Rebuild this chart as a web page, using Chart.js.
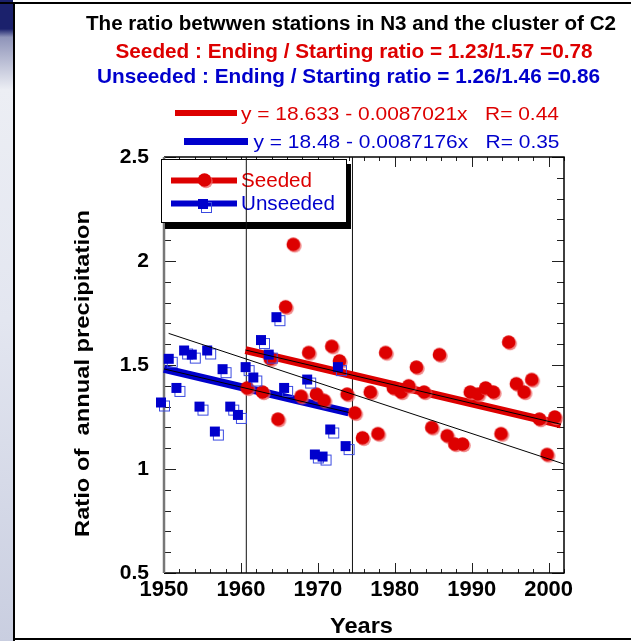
<!DOCTYPE html>
<html>
<head>
<meta charset="utf-8">
<title>N3 / C2 precipitation ratio</title>
<script src="https://cdn.jsdelivr.net/npm/chart.js@4.4.0/dist/chart.umd.min.js"></script>
<style>
  html, body { margin: 0; padding: 0; background: #fff; }
  canvas { display: block; }
</style>
</head>
<body>
<canvas id="chart" width="631" height="641"></canvas>
<script>
// Seeded years (red circles)
const seededYears = [1961, 1963, 1964, 1965, 1966, 1967, 1968, 1969, 1970, 1971,
  1972, 1973, 1974, 1975, 1976, 1977, 1978, 1979, 1980, 1981,
  1982, 1983, 1984, 1985, 1986, 1987, 1988, 1989, 1990, 1991,
  1992, 1993, 1994, 1995, 1996, 1997, 1998, 1999, 2000, 2001];
const seededRatio = [1.39, 1.37, 1.53, 1.24, 1.78, 2.08, 1.35, 1.56, 1.36, 1.33,
  1.59, 1.52, 1.36, 1.27, 1.15, 1.37, 1.17, 1.56, 1.39, 1.37,
  1.40, 1.49, 1.37, 1.20, 1.55, 1.16, 1.12, 1.12, 1.37, 1.36,
  1.39, 1.37, 1.17, 1.61, 1.41, 1.37, 1.43, 1.24, 1.07, 1.25];

// Unseeded years (blue squares)
const unseededYears = [1950, 1951, 1952, 1953, 1954, 1955, 1956, 1957, 1958, 1959,
  1960, 1961, 1962, 1963, 1964, 1965, 1966, 1969, 1970, 1971,
  1972, 1973, 1974];
const unseededRatio = [1.32, 1.53, 1.39, 1.57, 1.55, 1.30, 1.57, 1.18, 1.48, 1.30,
  1.26, 1.49, 1.44, 1.62, 1.55, 1.73, 1.39, 1.43, 1.07, 1.06,
  1.19, 1.49, 1.11];

// Regression lines: y = 18.633 - 0.0087021x and y = 18.48 - 0.0087176x
const seededFitYears = [1960.6, 2001.6];
const seededFitRatio = [1.572, 1.215];
const unseededFitYears = [1950, 1974];
const unseededFitRatio = [1.481, 1.272];
// Trend over the whole record
const allFitYears = [1950.6, 2002];
const allFitRatio = [1.652, 1.024];

// Start / end of the seeding period
const periodYears = [1960.7, 1974.5];

const xTickLabels = [1950, 1960, 1970, 1980, 1990, 2000];
const yTickLabels = [0.5, 1, 1.5, 2, 2.5];

const titleLines = [
  'The ratio betwwen stations in N3 and the cluster of C2',
  'Seeded : Ending / Starting ratio = 1.23/1.57 =0.78',
  'Unseeded : Ending / Starting ratio = 1.26/1.46 =0.86'
];
const seededFitLabel = 'y = 18.633 - 0.0087021x   R= 0.44';
const unseededFitLabel = 'y = 18.48 - 0.0087176x   R= 0.35';

const RED = '#dd0000';
const BLUE = '#0000cc';
const FONT = "'Liberation Sans', Arial, sans-serif";

function toPoints(xs, ys) {
  return xs.map((x, i) => ({ x, y: ys[i] }));
}

// circle with a soft offset shadow
function makeCircleMarker() {
  const c = document.createElement('canvas');
  c.width = 26; c.height = 26;
  const g = c.getContext('2d');
  g.fillStyle = 'rgba(236,100,100,0.75)';
  g.beginPath(); g.arc(13, 14.5, 6.8, 0, Math.PI * 2); g.fill();
  g.fillStyle = RED;
  g.beginPath(); g.arc(11.5, 13, 6.8, 0, Math.PI * 2); g.fill();
  return c;
}

// filled square with an outlined copy shifted down-right
function makeSquareMarker() {
  const c = document.createElement('canvas');
  c.width = 26; c.height = 26;
  const g = c.getContext('2d');
  g.strokeStyle = '#3a4ae0';
  g.lineWidth = 1;
  g.strokeRect(8.5, 11.5, 10, 10);
  g.fillStyle = BLUE;
  g.fillRect(5, 8, 10, 10);
  return c;
}

const circleMarker = makeCircleMarker();
const squareMarker = makeSquareMarker();

// draw text stretched or squeezed to a given width
function fitText(ctx, text, x, y, width) {
  const w = ctx.measureText(text).width;
  ctx.save();
  ctx.translate(x, y);
  ctx.scale(width / w, 1);
  ctx.textAlign = 'left';
  ctx.fillText(text, 0, 0);
  ctx.restore();
}

function hLine(ctx, x1, x2, y, width, color) {
  ctx.save();
  ctx.strokeStyle = color;
  ctx.lineWidth = width;
  ctx.beginPath();
  ctx.moveTo(x1, y);
  ctx.lineTo(x2, y);
  ctx.stroke();
  ctx.restore();
}

const decorPlugin = {
  id: 'decor',
  beforeDraw(chart) {
    const { ctx, width, height } = chart;
    ctx.save();
    ctx.fillStyle = '#fff';
    ctx.fillRect(0, 0, width, height);

    const grad = ctx.createLinearGradient(0, 0, 0, height);
    grad.addColorStop(0, '#1b216c');
    grad.addColorStop(0.045, '#1b216c');
    grad.addColorStop(0.058, '#8f94b9');
    grad.addColorStop(0.14, '#eceef4');
    grad.addColorStop(0.5, '#e3e6f0');
    grad.addColorStop(1, '#c9cee0');
    ctx.fillStyle = grad;
    ctx.fillRect(0, 0, 13, height);

    ctx.fillStyle = '#000';
    ctx.fillRect(0, 2, width, 2);
    ctx.fillRect(13, 2, 2, height);
    ctx.fillRect(13, 638, width, 2);
    ctx.restore();
  },
  beforeDatasetsDraw(chart) {
    const { ctx, chartArea: a } = chart;
    const x = chart.scales.x;
    const y = chart.scales.y;
    ctx.save();

    // inward tick marks on all four sides
    ctx.strokeStyle = '#222';
    ctx.lineWidth = 1;
    ctx.beginPath();
    for (let yr = 1950; yr <= 2002; yr += 2) {
      const px = Math.round(x.getPixelForValue(yr)) + 0.5;
      const len = yr % 10 === 0 ? 10 : 4;
      ctx.moveTo(px, a.bottom); ctx.lineTo(px, a.bottom - len);
      ctx.moveTo(px, a.top); ctx.lineTo(px, a.top + len);
    }
    for (let i = 5; i <= 25; i++) {
      const py = Math.round(y.getPixelForValue(i / 10)) + 0.5;
      const len = i % 5 === 0 ? 12 : 7;
      ctx.moveTo(a.left, py); ctx.lineTo(a.left + len, py);
      ctx.moveTo(a.right, py); ctx.lineTo(a.right - len, py);
    }
    ctx.stroke();

    // frame
    ctx.strokeStyle = '#000';
    ctx.lineWidth = 1.5;
    ctx.beginPath();
    ctx.moveTo(a.left, a.top); ctx.lineTo(a.right, a.top);
    ctx.lineTo(a.right, a.bottom); ctx.lineTo(a.left, a.bottom);
    ctx.stroke();
    ctx.strokeStyle = '#777';
    ctx.lineWidth = 2.5;
    ctx.beginPath();
    ctx.moveTo(a.left, a.top); ctx.lineTo(a.left, a.bottom);
    ctx.stroke();

    // series legend box with drop shadow
    const bx = a.left - 3, by = a.top + 2, bw = 186, bh = 64;
    ctx.fillStyle = '#000';
    ctx.fillRect(bx + 4, by + 5, bw, bh + 1);
    ctx.fillStyle = '#fff';
    ctx.fillRect(bx, by, bw, bh);
    ctx.strokeStyle = '#000';
    ctx.lineWidth = 1;
    ctx.strokeRect(bx + 0.5, by + 0.5, bw - 1, bh - 1);

    hLine(ctx, bx + 10, bx + 76, by + 21.5, 6, RED);
    ctx.drawImage(circleMarker, bx + 45 - 13, by + 21 - 13);
    hLine(ctx, bx + 10, bx + 76, by + 44.5, 6, BLUE);
    ctx.drawImage(squareMarker, bx + 45 - 13, by + 45 - 13);

    ctx.font = `20.5px ${FONT}`;
    ctx.fillStyle = RED;
    fitText(ctx, 'Seeded', bx + 80, by + 28, 71);
    ctx.fillStyle = BLUE;
    fitText(ctx, 'Unseeded', bx + 80, by + 51, 94);
    ctx.restore();
  },
  afterDraw(chart) {
    const { ctx } = chart;
    ctx.save();
    ctx.textBaseline = 'alphabetic';

    // titles
    ctx.font = `bold 20px ${FONT}`;
    ctx.fillStyle = '#000';
    fitText(ctx, titleLines[0], 86, 29.5, 530);
    ctx.font = `bold 21px ${FONT}`;
    ctx.fillStyle = RED;
    fitText(ctx, titleLines[1], 115.5, 58, 477);
    ctx.fillStyle = BLUE;
    fitText(ctx, titleLines[2], 97, 83, 503);

    // regression legend
    hLine(ctx, 175, 237, 113, 6, RED);
    hLine(ctx, 184, 248, 141.5, 7, BLUE);
    ctx.font = `19px ${FONT}`;
    ctx.fillStyle = RED;
    fitText(ctx, seededFitLabel, 241, 119.5, 318);
    ctx.fillStyle = BLUE;
    fitText(ctx, unseededFitLabel, 253.5, 148, 306);

    // axis titles
    ctx.fillStyle = '#000';
    ctx.font = `bold 21px ${FONT}`;
    ctx.save();
    ctx.translate(89, 373.5);
    ctx.rotate(-Math.PI / 2);
    fitText(ctx, 'Ratio of  annual precipitation', -163.5, 0, 327);
    ctx.restore();
    ctx.font = `bold 22px ${FONT}`;
    fitText(ctx, 'Years', 330, 633, 63);
    ctx.restore();
  }
};

const lineSet = (xs, ys, color, width, order) => ({
  data: toPoints(xs, ys),
  showLine: true,
  borderColor: color,
  borderWidth: width,
  pointRadius: 0,
  fill: false,
  clip: false,
  order
});

const datasets = [
  lineSet(allFitYears, allFitRatio, '#000', 1, 0),
  lineSet(seededFitYears, seededFitRatio, '#000', 1, 1),
  lineSet(unseededFitYears, unseededFitRatio, '#000', 1, 2),
  {
    label: 'Unseeded',
    data: toPoints(unseededYears, unseededRatio),
    pointStyle: squareMarker,
    pointRadius: 6,
    showLine: false,
    clip: false,
    order: 3
  },
  {
    label: 'Seeded',
    data: toPoints(seededYears, seededRatio),
    pointStyle: circleMarker,
    pointRadius: 6,
    showLine: false,
    clip: false,
    order: 4
  },
  lineSet(unseededFitYears, unseededFitRatio, BLUE, 8, 5),
  lineSet(seededFitYears, seededFitRatio, RED, 8, 6),
  lineSet([periodYears[0], periodYears[0]], [0.5, 2.5], '#111', 1, 7),
  lineSet([periodYears[1], periodYears[1]], [0.5, 2.5], '#111', 1, 8)
];

new Chart(document.getElementById('chart'), {
  type: 'scatter',
  data: { datasets },
  options: {
    responsive: false,
    animation: false,
    events: [],
    layout: { padding: { left: 0, top: 157, right: 67, bottom: 0 } },
    plugins: {
      legend: { display: false },
      tooltip: { enabled: false }
    },
    scales: {
      x: {
        type: 'linear',
        min: 1950,
        max: 2002,
        grid: { display: false, drawTicks: false },
        border: { display: false },
        ticks: {
          color: '#000',
          font: { family: FONT, size: 22, weight: 'bold' },
          padding: 4,
          maxRotation: 0,
          autoSkip: false,
          callback: v => String(v)
        },
        afterBuildTicks: s => { s.ticks = xTickLabels.map(v => ({ value: v })); },
        afterFit: s => { s.height = 68; }
      },
      y: {
        type: 'linear',
        min: 0.5,
        max: 2.5,
        grid: { display: false, drawTicks: false },
        border: { display: false },
        ticks: {
          color: '#000',
          font: { family: FONT, size: 21, weight: 'bold' },
          padding: 15,
          callback: v => String(v)
        },
        afterBuildTicks: s => { s.ticks = yTickLabels.map(v => ({ value: v })); },
        afterFit: s => { s.width = 164; }
      }
    }
  },
  plugins: [decorPlugin]
});
</script>
</body>
</html>
